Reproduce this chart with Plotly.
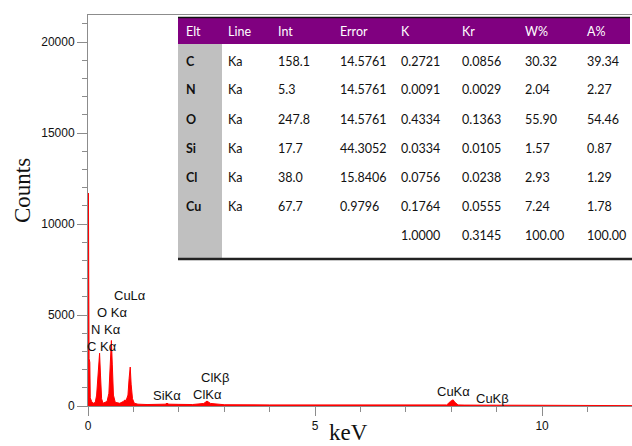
import plotly.graph_objects as go

# ---------------- data ----------------
energy_kev = [0.000, 0.004, 0.010, 0.016, 0.024, 0.040, 0.050, 0.080, 0.120, 0.160,
              0.190, 0.220, 0.245, 0.255, 0.275, 0.300, 0.330, 0.380, 0.420, 0.460,
              0.490, 0.505, 0.515, 0.535, 0.560, 0.600, 0.700, 0.780, 0.810, 0.840,
              0.880, 0.905, 0.920, 0.930, 0.950, 0.980, 1.020, 1.100, 1.300, 1.500,
              1.700, 1.740, 1.780, 2.000, 2.300, 2.550, 2.620, 2.700, 2.850, 3.000,
              4.000, 5.000, 6.000, 7.000, 7.900, 7.980, 8.040, 8.080, 8.150, 8.300,
              8.850, 8.920, 9.000, 10.000, 11.000, 12.000]
counts = [0, 11700, 11700, 7300, 2600, 2400, 450, 250, 150, 200,
          600, 2000, 2900, 2900, 1700, 400, 150, 200, 250, 700,
          2500, 3600, 3600, 2300, 600, 200, 150, 250, 330, 300,
          600, 1500, 2140, 2140, 1200, 400, 150, 100, 80, 90,
          100, 150, 100, 90, 80, 140, 270, 140, 100, 70,
          60, 55, 50, 50, 60, 250, 340, 200, 60, 50,
          60, 80, 45, 40, 30, 20]

peak_labels = ["C K\u03b1", "N K\u03b1", "O K\u03b1", "CuL\u03b1", "SiK\u03b1",
               "ClK\u03b1", "ClK\u03b2", "CuK\u03b1", "CuK\u03b2"]

table_header = ["Elt", "Line", "Int", "Error", "K", "Kr", "W%", "A%"]
elt = ["C", "N", "O", "Si", "Cl", "Cu", ""]
line = ["Ka", "Ka", "Ka", "Ka", "Ka", "Ka", ""]
intensity = ["158.1", "5.3", "247.8", "17.7", "38.0", "67.7", ""]
error = ["14.5761", "14.5761", "14.5761", "44.3052", "15.8406", "0.9796", ""]
k_ratio = ["0.2721", "0.0091", "0.4334", "0.0334", "0.0756", "0.1764", "1.0000"]
kr = ["0.0856", "0.0029", "0.1363", "0.0105", "0.0238", "0.0555", "0.3145"]
w_pct = ["30.32", "2.04", "55.90", "1.57", "2.93", "7.24", "100.00"]
a_pct = ["39.34", "2.27", "54.46", "0.87", "1.29", "1.78", "100.00"]

# ---------------- layout geometry (pixels) ----------------
W, H = 632, 446
ML, MR, MT, MB = 88, 0, 15, 40
PW, PH = W - ML - MR, H - MT - MB


def px(x):
    return (x - ML) / PW


def py(y):
    return (H - MB - y) / PH


fig = go.Figure()
fig.add_trace(go.Scatter(
    x=energy_kev, y=counts, mode="lines",
    line=dict(color="#ff0000", width=1),
    fill="tozeroy", fillcolor="#ff0000",
    hoverinfo="skip", showlegend=False))

axis_gray = "#8c8c8c"
fig.update_xaxes(range=[0, 11.98], showgrid=False, zeroline=False,
                 showline=True, linecolor=axis_gray, linewidth=1, mirror=True,
                 ticks="outside", ticklen=9, tickcolor=axis_gray, dtick=5, tick0=0,
                 minor=dict(dtick=1, ticks="outside", ticklen=5, tickcolor=axis_gray),
                 tickfont=dict(family="Liberation Sans, Arial", size=12, color="#111"))
fig.update_yaxes(range=[0, 21484], showgrid=False, zeroline=False,
                 showline=True, linecolor=axis_gray, linewidth=1,
                 ticks="outside", ticklen=10, tickcolor=axis_gray, dtick=5000, tick0=0,
                 tickformat="d",
                 minor=dict(dtick=1000, ticks="outside", ticklen=5, tickcolor=axis_gray),
                 tickfont=dict(family="Liberation Sans, Arial", size=12, color="#111"))

annotations = []


def ann(x, y, text, font, xanchor="center", yanchor="middle", **kw):
    d = dict(x=px(x), y=py(y), xref="paper", yref="paper", text=text,
             showarrow=False, xanchor=xanchor, yanchor=yanchor, font=font)
    d.update(kw)
    annotations.append(d)


serif = dict(family="Liberation Serif, Times New Roman", color="#111")
ann(348, 446, "keV", dict(serif, size=23), yanchor="bottom", borderpad=0)
ann(22, 191, "Counts", dict(serif, size=23), textangle=-90)

# peak labels (pixel centres)
label_pos = [(101.5, 346), (105.5, 329), (112, 312), (130, 295), (167, 395),
             (207.5, 394), (215, 377), (453.5, 391), (492.5, 398)]
lab_font = dict(family="Liberation Sans, Arial", size=13, color="#111")
for txt, (lx, ly) in zip(peak_labels, label_pos):
    ann(lx, ly, txt, lab_font)

shapes = []
t_left, t_right, t_top, t_bot = 178, 630, 17, 259
shapes.append(dict(type="rect", xref="paper", yref="paper", layer="above",
                   x0=px(t_left), x1=px(W + 2), y0=py(t_bot), y1=py(t_top),
                   fillcolor="white", line=dict(width=0)))
shapes.append(dict(type="rect", xref="paper", yref="paper", layer="above",
                   x0=px(t_left), x1=px(t_right), y0=py(44), y1=py(18),
                   fillcolor="#800080", line=dict(width=0)))
shapes.append(dict(type="rect", xref="paper", yref="paper", layer="above",
                   x0=px(t_left), x1=px(222), y0=py(258), y1=py(44),
                   fillcolor="#c0c0c0", line=dict(width=0)))
shapes.append(dict(type="line", xref="paper", yref="paper", layer="above",
                   x0=px(t_left), x1=px(t_right), y0=py(17.5), y1=py(17.5),
                   line=dict(color="#111", width=1.5)))
shapes.append(dict(type="line", xref="paper", yref="paper", layer="above",
                   x0=px(t_left), x1=px(W + 2), y0=py(259), y1=py(259),
                   line=dict(color="#222", width=2.5)))

col_x = [184, 226, 276, 338, 399, 460, 523, 585]
row_y = [61, 90, 119, 148, 177, 206, 235]
tfont = "Lato, Open Sans, Liberation Sans"
for cx, h in zip(col_x, table_header):
    ann(cx, 31, h, dict(family=tfont, size=12.5, color="white"), xanchor="left")
columns = [elt, line, intensity, error, k_ratio, kr, w_pct, a_pct]
for ci, (cx, col) in enumerate(zip(col_x, columns)):
    for ry, val in zip(row_y, col):
        if not val:
            continue
        txt = "<b>%s</b>" % val if ci == 0 else val
        ann(cx, ry, txt, dict(family=tfont, size=12.5, color="#111"), xanchor="left")

fig.update_layout(width=W, height=H, margin=dict(l=ML, r=MR, t=MT, b=MB),
                  paper_bgcolor="white", plot_bgcolor="white",
                  annotations=annotations, shapes=shapes, showlegend=False)

fig.write_html("out.html")
